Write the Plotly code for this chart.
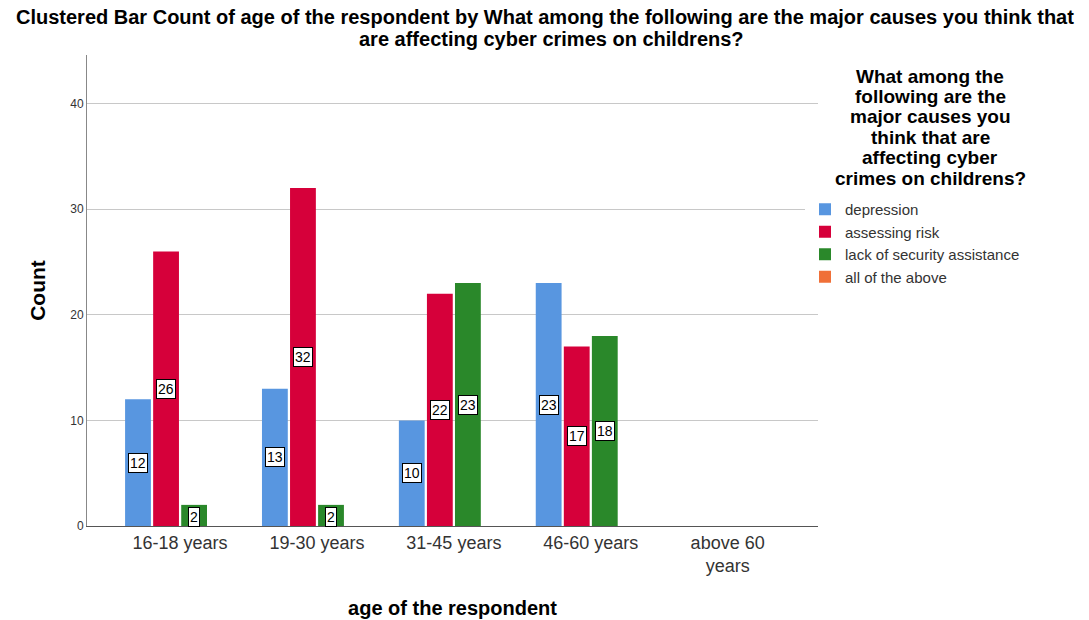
import plotly.graph_objects as go

categories = ["16-18 years", "19-30 years", "31-45 years", "46-60 years", "above 60<br>years"]
series_names = ["depression", "assessing risk", "lack of security assistance", "all of the above"]
depression = [12, 13, 10, 23, 0]
assessing_risk = [26, 32, 22, 17, 0]
lack_security = [2, 2, 23, 18, 0]
all_above = [0, 0, 0, 0, 0]
colors = ["#5896E0", "#D6003A", "#2A882A", "#F07038"]

title_lines = ["Clustered Bar Count of age of the respondent by What among the following are the major causes you think that",
               "are affecting cyber crimes on childrens?"]
legend_title_lines = ["What among the", "following are the", "major causes you",
                      "think that are", "affecting cyber", "crimes on childrens?"]

values = [depression, assessing_risk, lack_security, all_above]
BARGAP = 0.18
GROUPGAP = 0.08
FONT = "Arial, Liberation Sans, sans-serif"

# plot area in pixels
L, R, T, B = 87, 818, 55, 526
W, H = 1089, 620


def px_to_paper_y(py):
    return (B - py) / (B - T)


def px_to_paper_x(px):
    return (px - L) / (R - L)


fig = go.Figure()
for name, vals, col in zip(series_names, values, colors):
    fig.add_trace(go.Bar(x=categories, y=vals, name=name, marker=dict(color=col, line=dict(width=0))))

n = len(series_names)
slot = (1 - BARGAP) / n
for i, vals in enumerate(values):
    for j, v in enumerate(vals):
        if v > 0:
            xpos = j - (1 - BARGAP) / 2 + (i + 0.5) * slot
            fig.add_annotation(x=xpos, y=v / 2 if v > 3 else v * 0.42, xref="x", yref="y",
                               text=str(v), showarrow=False,
                               font=dict(family=FONT, size=14, color="#000"),
                               bgcolor="white", bordercolor="#000", borderwidth=1, borderpad=1)

# chart title (two lines)
for line, px, py in zip(title_lines, [545, 551], [17, 39]):
    fig.add_annotation(x=px_to_paper_x(px), y=px_to_paper_y(py), xref="paper", yref="paper",
                       text="<b>" + line + "</b>", showarrow=False, xanchor="center", yanchor="middle",
                       font=dict(family=FONT, size=20, color="#000"))

# legend title (centered lines)
for k, line in enumerate(legend_title_lines):
    py = 76 + k * 20.5
    fig.add_annotation(x=px_to_paper_x(930), y=px_to_paper_y(py), xref="paper", yref="paper",
                       text="<b>" + line + "</b>", showarrow=False, xanchor="center", yanchor="middle",
                       font=dict(family=FONT, size=19, color="#000"))

fig.update_layout(
    width=W, height=H,
    margin=dict(l=L, r=W - R, t=T, b=H - B),
    paper_bgcolor="white", plot_bgcolor="white",
    barmode="group", bargap=BARGAP, bargroupgap=GROUPGAP,
    font=dict(family=FONT, color="#222"),
    legend=dict(x=px_to_paper_x(805), xanchor="left", y=px_to_paper_y(193), yanchor="top",
                font=dict(family=FONT, size=15, color="#333"),
                tracegroupgap=0, itemsizing="constant"),
    xaxis=dict(type="category", range=[-0.68, 4.66], showline=True, linecolor="#555", linewidth=1,
               showgrid=False, ticks="", tickfont=dict(family=FONT, size=18, color="#333"),
               automargin=False,
               title=dict(text="<b>age of the respondent</b>", font=dict(family=FONT, size=20, color="#000"), standoff=25)),
    yaxis=dict(range=[0, 44.6], tickvals=[0, 10, 20, 30, 40], showline=True, linecolor="#888", linewidth=1,
               showgrid=True, gridcolor="#C8C8C8", gridwidth=1, zeroline=False,
               ticks="", tickfont=dict(family=FONT, size=12, color="#333"),
               automargin=False,
               title=dict(text="<b>Count</b>", font=dict(family=FONT, size=21, color="#000"), standoff=18)),
)

fig.write_html("out.html")
